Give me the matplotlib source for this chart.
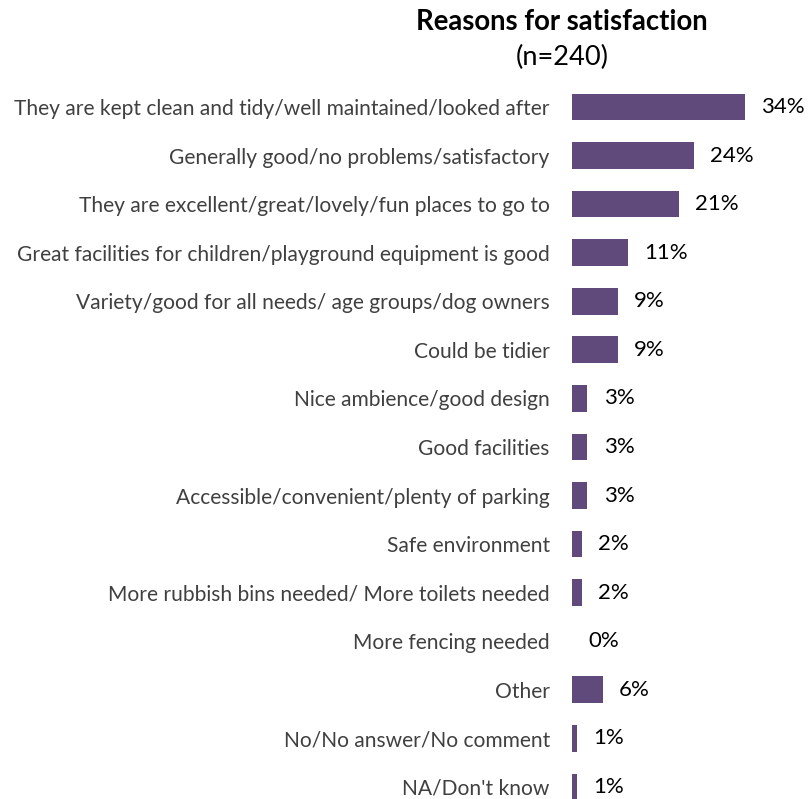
import matplotlib
matplotlib.use("Agg")
import matplotlib.pyplot as plt

plt.rcParams['font.family'] = ['Lato', 'DejaVu Sans']

# survey reasons and percentage of respondents
reasons = [
    "They are kept clean and tidy/well maintained/looked after",
    "Generally good/no problems/satisfactory",
    "They are excellent/great/lovely/fun places to go to",
    "Great facilities for children/playground equipment is good",
    "Variety/good for all needs/ age groups/dog owners",
    "Could be tidier",
    "Nice ambience/good design",
    "Good facilities",
    "Accessible/convenient/plenty of parking",
    "Safe environment",
    "More rubbish bins needed/ More toilets needed",
    "More fencing needed",
    "Other",
    "No/No answer/No comment",
    "NA/Don't know",
]
percents = [34, 24, 21, 11, 9, 9, 3, 3, 3, 2, 2, 0, 6, 1, 1]

bar_color = "#5f4a7b"

fig = plt.figure(figsize=(8.10, 7.99), dpi=100)
W, H = 810, 799
px_per_unit = 5.09
row_step = 48.57
left, right = 572, 800
top = 107 - row_step / 2
ax = fig.add_axes([left / W, 0, (right - left) / W, (H - top) / H])

y = list(range(len(reasons)))
ax.barh(y, percents, height=0.55, color=bar_color)
ax.set_xlim(0, (right - left) / px_per_unit)
ax.set_ylim(-0.5 + (H - top) / row_step, -0.5)

for yi, v in zip(y, percents):
    ax.text(v + 3.2, yi, f"{v}%", va="center", ha="left",
            fontsize=16, color="black")

ax.set_yticks(y)
ax.set_yticklabels(reasons, fontsize=15.1, color="#404040")
ax.tick_params(axis="y", length=0, pad=16)
ax.set_xticks([])
for s in ax.spines.values():
    s.set_visible(False)

fig.text(562 / W, 1 - 22 / H, "Reasons for satisfaction", ha="center",
         va="center", fontsize=19.8, fontweight="bold")
fig.text(562 / W, 1 - 57 / H, "(n=240)", ha="center", va="center",
         fontsize=19.6)

fig.savefig("out.png", dpi=100)
